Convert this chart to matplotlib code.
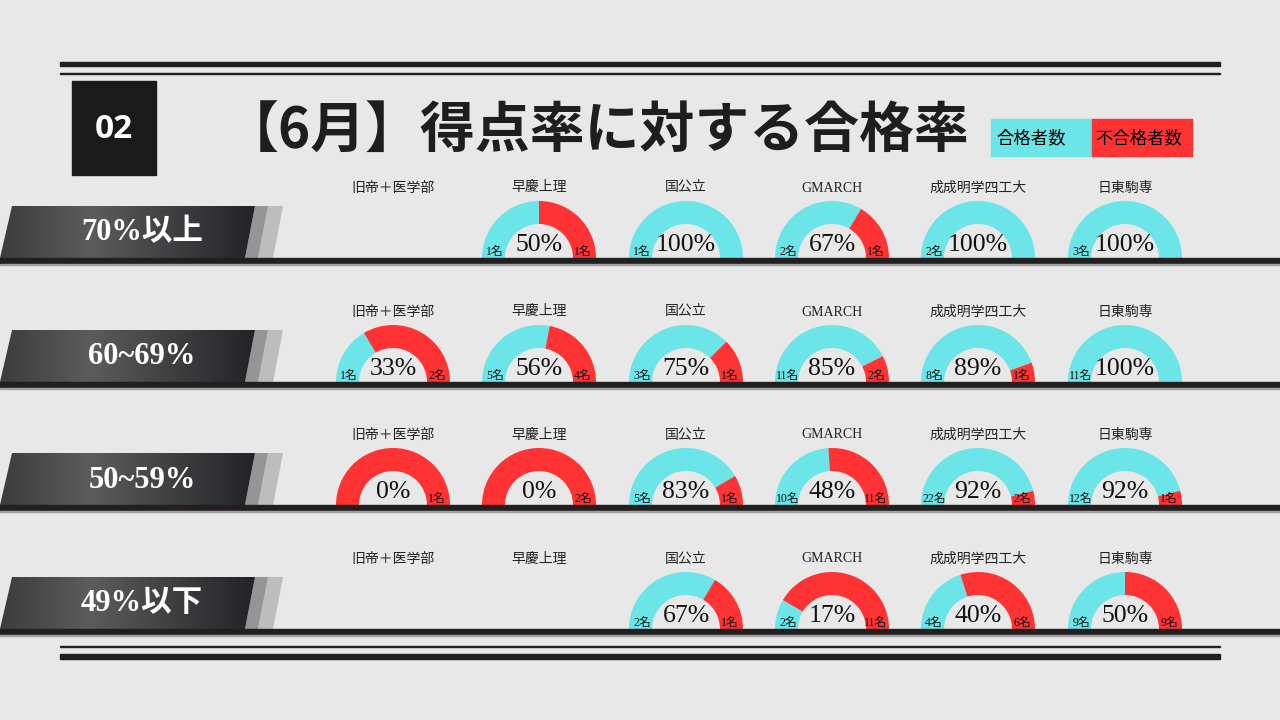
import numpy as np
import matplotlib.pyplot as plt
from matplotlib.patches import Wedge, Rectangle, Polygon
from matplotlib.colors import LinearSegmentedColormap

# データ
levels = ['70%以上', '60~69%', '50~59%', '49%以下']
schools = ['旧帝＋医学部', '早慶上理', '国公立', 'GMARCH', '成成明学四工大', '日東駒専']
passed = [[None, 1, 1, 2, 2, 3],
          [1, 5, 3, 11, 8, 11],
          [0, 0, 5, 10, 22, 12],
          [None, None, 2, 2, 4, 9]]
failed = [[None, 1, 0, 1, 0, 0],
          [2, 4, 1, 2, 1, 0],
          [1, 2, 1, 11, 2, 1],
          [None, None, 1, 11, 6, 9]]
rates = [[None, 50, 100, 67, 100, 100],
         [33, 56, 75, 85, 89, 100],
         [0, 0, 83, 48, 92, 92],
         [None, None, 67, 17, 40, 50]]

CYAN = '#6be5e8'
RED = '#ff3333'
BG = '#e8e8e8'
DARK = '#231f20'
JP = ['Noto Sans CJK JP']
SERIF = ['Liberation Serif', 'Noto Sans CJK JP']

fig = plt.figure(figsize=(12.8, 7.2), dpi=100, facecolor=BG)
ax = fig.add_axes([0, 0, 1, 1])
ax.set_facecolor(BG)

# 上下の二重線
ax.add_patch(Rectangle((60, 61.5), 1160, 4, color=DARK))
ax.add_patch(Rectangle((60, 72.5), 1160, 1.6, color=DARK))
ax.add_patch(Rectangle((60, 645.5), 1160, 1.6, color=DARK))
ax.add_patch(Rectangle((60, 654), 1160, 4.5, color=DARK))

# 番号ボックスとタイトル
ax.add_patch(Rectangle((72, 81), 84, 94, color='#1a1a1a'))
ax.text(114, 129, '02', color='white', fontsize=24, fontweight='bold',
        family=['Open Sans'], ha='center', va='center')
ax.text(597, 131, '【6月】得点率に対する合格率', fontsize=39.5, fontweight='bold',
        family=JP, color='#1e1e1e', ha='center', va='center')

# 凡例
ax.add_patch(Rectangle((991, 119), 101, 37, color=CYAN))
ax.add_patch(Rectangle((1092, 119), 100, 37, color=RED))
ax.text(996, 138, '合格者数', fontsize=12.5, family=JP, ha='left', va='center')
ax.text(1095, 138, '不合格者数', fontsize=12.5, family=JP, ha='left', va='center')

cmap = LinearSegmentedColormap.from_list(
    'band', [(0, '#3c3c3c'), (0.35, '#5c5c5c'), (1, '#222327')])
grad = np.linspace(0, 1, 256).reshape(1, -1)

row_y = [258, 382, 505, 629]
col_x = [393, 539, 686, 832, 978, 1125]
r_out, r_in = 57, 34

for i, lv in enumerate(levels):
    yb = row_y[i]
    yt = yb - 52
    # 見出し帯
    ax.add_patch(Polygon([(268, yt), (283, yt), (273, yb), (258, yb)], color='#bdbdbd', lw=0))
    ax.add_patch(Polygon([(255, yt), (268, yt), (258, yb), (245, yb)], color='#959595', lw=0))
    band = Polygon([(12, yt), (255, yt), (245, yb), (0, yb)], closed=True,
                   facecolor='none', edgecolor='none')
    ax.add_patch(band)
    im = ax.imshow(grad, cmap=cmap, extent=(0, 256, yb, yt), aspect='auto', zorder=1)
    im.set_clip_path(band)
    ax.text(142, yt + 27, lv, color='white', fontsize=22, fontweight='bold',
            family=SERIF, ha='center', va='center', zorder=3)
    # 区切り線
    ax.add_patch(Rectangle((0, yb), 1280, 5.5, color=DARK, zorder=4))
    ax.add_patch(Rectangle((0, yb + 5.5), 1280, 1.2, color='#a0a0a0', zorder=4))

    for j, sc in enumerate(schools):
        cx = col_x[j]
        ax.text(cx, yb - 70, sc, fontsize=10, family=SERIF, color='#222',
                ha='center', va='center')
        if rates[i][j] is None:
            continue
        p = rates[i][j] / 100
        split = -180 + 180 * p
        if p > 0:
            ax.add_patch(Wedge((cx, yb), r_out, -180, split, width=r_out - r_in,
                               facecolor=CYAN, lw=0, zorder=2))
        if p < 1:
            ax.add_patch(Wedge((cx, yb), r_out, split, 0, width=r_out - r_in,
                               facecolor=RED, lw=0, zorder=2))
        ax.text(cx, yb - 13, f'{rates[i][j]}%', fontsize=18.5, family=SERIF,
                color='#111', ha='center', va='center', zorder=3)
        if passed[i][j]:
            ax.text(cx - 44, yb - 6, f'{passed[i][j]}名', fontsize=8.5, family=SERIF,
                    color='#111', ha='center', va='center', zorder=3)
        if failed[i][j]:
            ax.text(cx + 44, yb - 6, f'{failed[i][j]}名', fontsize=8.5, family=SERIF,
                    color='#111', ha='center', va='center', zorder=3)

ax.set_xlim(0, 1280)
ax.set_ylim(720, 0)
ax.axis('off')
fig.savefig('out.png', dpi=100, facecolor=BG)
